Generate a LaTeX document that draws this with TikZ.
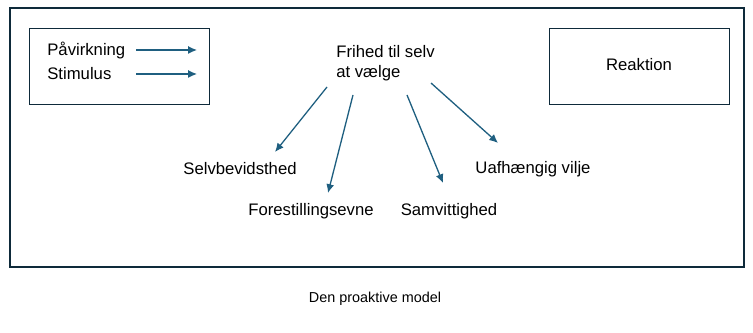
\documentclass[tikz,border=0pt]{standalone}
\usepackage{fontspec}
\setmainfont{Liberation Sans}
\usetikzlibrary{arrows.meta}
\definecolor{framecol}{HTML}{0E2A3A}
\definecolor{arrowcol}{HTML}{1F5F80}
\tikzset{
  lbl/.style={inner sep=0pt, font=\fontsize{9.5}{11.3}\selectfont},
  pil/.style={arrowcol, line width=0.75pt, -{Latex[length=5pt,width=4.5pt]}},
}

\begin{document}
\begin{tikzpicture}[x=0.02cm, y=-0.02cm]
\useasboundingbox (0,0) rectangle (753,333);
\draw[framecol, line width=1.4pt] (10,8) rectangle (744,267);
\draw[framecol, line width=0.5pt] (29,28) rectangle (209,104);
\draw[framecol, line width=0.5pt] (549,28) rectangle (729,104);
\node[lbl, anchor=west] (paavirk) at (47,51) {Påvirkning};
\node[lbl, anchor=west] (stimul) at (47,74) {Stimulus};
\node[lbl] (reakt) at (639,65) {Reaktion};
\node[lbl, anchor=west, align=left] (frihed) at (336,63) {Frihed til selv\\at vælge};
\node[lbl] (selvbev) at (240,169) {Selvbevidsthed};
\node[lbl] (forest) at (311,211) {Forestillingsevne};
\node[lbl] (samvit) at (449,211) {Samvittighed};
\node[lbl] (uafh) at (533,169) {Uafhængig vilje};
\node[inner sep=0pt, font=\fontsize{8.2}{10}\selectfont] (titel) at (375,299) {Den proaktive model};
% arrow ends
\coordinate (p1) at (136,50);
\coordinate (p2) at (197,50);
\coordinate (s1) at (136,74);
\coordinate (s2) at (197,74);
\coordinate (f1) at (327,87);
\coordinate (f2) at (353,95);
\coordinate (f3) at (407,95);
\coordinate (f4) at (431,83);
\coordinate (e1) at (275,152);
\coordinate (e2) at (328,193);
\coordinate (e3) at (443,183);
\coordinate (e4) at (498,143);
\draw[pil] (p1) -- (p2);
\draw[pil] (s1) -- (s2);
\draw[pil] (f1) -- (e1);
\draw[pil] (f2) -- (e2);
\draw[pil] (f3) -- (e3);
\draw[pil] (f4) -- (e4);
\end{tikzpicture}
\end{document}
